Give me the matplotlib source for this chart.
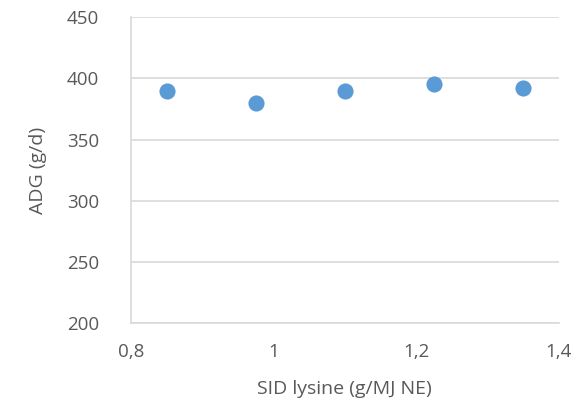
import matplotlib
matplotlib.use("Agg")
import matplotlib.pyplot as plt
from matplotlib.ticker import FuncFormatter

sid_lysine = [0.85, 0.975, 1.1, 1.225, 1.35]
adg = [390, 380, 390, 395, 392]
x_ticks = [0.8, 1.0, 1.2, 1.4]
y_ticks = [200, 250, 300, 350, 400, 450]

plt.rcParams['font.family'] = ['Open Sans', 'DejaVu Sans']

fig = plt.figure(figsize=(5.82, 4.08), dpi=100)
ax = fig.add_axes([0.225, 0.208, 0.735, 0.75])

grid_c = '#d9d9d9'
text_c = '#595959'

ax.scatter(sid_lysine, adg, s=135, color='#5b9bd5', zorder=3, linewidths=0)
ax.set_xlim(0.8, 1.4)
ax.set_ylim(200, 450)
ax.set_xticks(x_ticks)
ax.set_yticks(y_ticks)
ax.xaxis.set_major_formatter(FuncFormatter(lambda v, p: ('%g' % v).replace('.', ',')))
ax.yaxis.grid(True, color=grid_c, linewidth=1.2)
ax.set_axisbelow(True)
for s in ['top', 'right']:
    ax.spines[s].set_visible(False)
for s in ['left', 'bottom']:
    ax.spines[s].set_color(grid_c)
    ax.spines[s].set_linewidth(1.2)
ax.tick_params(length=0, labelsize=13.5, colors=text_c)
ax.tick_params(axis='x', pad=14)
ax.tick_params(axis='y', pad=23)
ax.set_xlabel('SID lysine (g/MJ NE)', fontsize=14, color=text_c, labelpad=14)
ax.set_ylabel('ADG (g/d)', fontsize=14, color=text_c, labelpad=14)

fig.savefig('out.png', dpi=100)
